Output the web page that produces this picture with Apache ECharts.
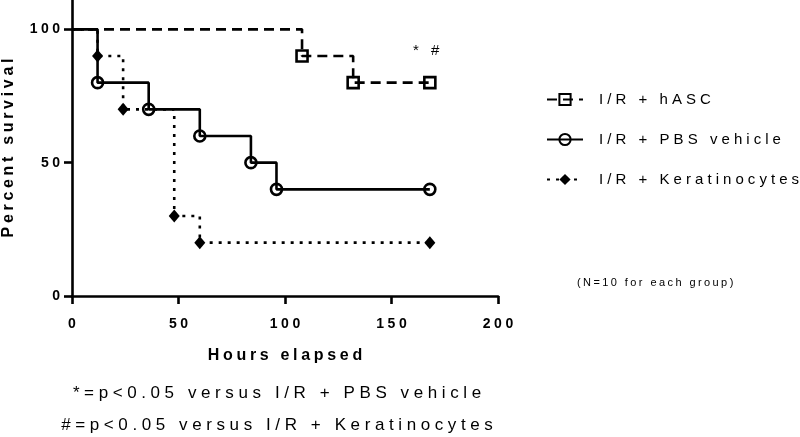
<!DOCTYPE html>
<html>
<head>
<meta charset="utf-8">
<script src="https://cdn.jsdelivr.net/npm/echarts@6/dist/echarts.min.js"></script>
<style>
html,body{margin:0;padding:0;background:#fff;}
#chart{width:800px;height:437px;}
</style>
</head>
<body>
<div id="chart"></div>
<script>
// ---- data ----
const hascHours = [0, 108, 132, 168];
const hascSurvival = [100, 90, 80, 80];
const pbsHours = [0, 12, 36, 60, 84, 96, 168];
const pbsSurvival = [100, 80, 70, 60, 50, 40, 40];
const keraHours = [0, 12, 24, 48, 60, 168];
const keraSurvival = [100, 90, 70, 30, 20, 20];
const seriesNames = ['I/R + hASC', 'I/R + PBS vehicle', 'I/R + Keratinocytes'];
const hoursTicks = [0, 50, 100, 150, 200];
const survivalTicks = [0, 50, 100];
const xTitle = 'Hours elapsed';
const yTitle = 'Percent survival';
const sigText = '* #';
const noteText = '(N=10 for each group)';
const footLines = ['*=p<0.05 versus I/R + PBS vehicle', '#=p<0.05 versus I/R + Keratinocytes'];

// ---- letter spacing for canvas text (reference uses widely tracked type) ----
(function () {
  const P = CanvasRenderingContext2D.prototype;
  const orig = P.fillText;
  function spacingFor(size, bold) {
    if (bold) return size >= 16 ? size * 0.23 : size * 0.25;
    if (size < 13) return size * 0.22;
    return size * 0.27;
  }
  P.fillText = function (text, x, y, maxW) {
    const has = ('letterSpacing' in this);
    if (has) {
      const m = /(\d+(?:\.\d+)?)px/.exec(this.font);
      const size = m ? parseFloat(m[1]) : 12;
      const ls = spacingFor(size, /bold|[6-9]00/.test(this.font));
      this.letterSpacing = ls + 'px';
      const a = this.textAlign;
      if (a === 'center') x += ls / 2;
      else if (a === 'right' || a === 'end') x += ls;
    }
    const r = (maxW === undefined) ? orig.call(this, text, x, y) : orig.call(this, text, x, y, maxW);
    if (has) this.letterSpacing = '0px';
    return r;
  };
})();

const FONT = '"Liberation Sans", Arial, Helvetica, sans-serif';

function toData(hours, surv) {
  return hours.map((h, i) => i === 0 ? { value: [h, surv[i]], symbol: 'none' } : [h, surv[i]]);
}

const chart = echarts.init(document.getElementById('chart'), null, { renderer: 'canvas' });
chart.setOption({
  animation: false,
  backgroundColor: '#fff',
  grid: { left: 72, right: 302, top: 0, bottom: 141, containLabel: false, outerBoundsMode: 'none' },
  xAxis: {
    type: 'value', min: 0, max: 200, interval: 50,
    name: xTitle, nameLocation: 'middle', nameGap: 52,
    nameTextStyle: { fontFamily: FONT, fontWeight: 'bold', fontSize: 16, color: '#000' },
    axisLine: { show: true, onZero: false, lineStyle: { color: '#000', width: 2.6 } },
    axisTick: { show: true, inside: false, length: 8, lineStyle: { color: '#000', width: 2.6 } },
    axisLabel: { margin: 21, fontFamily: FONT, fontWeight: 'bold', fontSize: 14, color: '#000', customValues: hoursTicks },
    splitLine: { show: false }
  },
  yAxis: {
    type: 'value', min: 0, max: 111,
    name: yTitle, nameLocation: 'middle', nameGap: 55, nameRotate: 90,
    nameTextStyle: { fontFamily: FONT, fontWeight: 'bold', fontSize: 16, color: '#000' },
    axisLine: { show: true, onZero: false, lineStyle: { color: '#000', width: 2.6 } },
    axisTick: { show: true, inside: false, length: 8, lineStyle: { color: '#000', width: 2.6 }, customValues: survivalTicks },
    axisLabel: { margin: 12, fontFamily: FONT, fontWeight: 'bold', fontSize: 14, color: '#000', customValues: survivalTicks },
    splitLine: { show: false }
  },
  legend: {
    orient: 'vertical', left: 546, top: 92, padding: 0,
    itemWidth: 36, itemHeight: 14, itemGap: 25,
    textStyle: { fontFamily: FONT, fontSize: 15, color: '#000', padding: [0, 0, 0, 11], lineHeight: 14 },
    data: seriesNames
  },
  series: [
    {
      name: seriesNames[0], type: 'line', step: 'end',
      data: toData(hascHours, hascSurvival),
      symbol: 'rect', symbolSize: 11,
      lineStyle: { color: '#000', width: 2.6, type: [10, 6] },
      itemStyle: { color: 'rgba(255,255,255,0)', borderColor: '#000', borderWidth: 2.6 },
      z: 2
    },
    {
      name: seriesNames[1], type: 'line', step: 'end',
      data: toData(pbsHours, pbsSurvival),
      symbol: 'circle', symbolSize: 11,
      lineStyle: { color: '#000', width: 2.6, type: 'solid' },
      itemStyle: { color: 'rgba(255,255,255,0)', borderColor: '#000', borderWidth: 2.6 },
      z: 3
    },
    {
      name: seriesNames[2], type: 'line', step: 'end',
      data: toData(keraHours, keraSurvival),
      symbol: 'diamond', symbolSize: [11, 13],
      lineStyle: { color: '#000', width: 2.6, type: [3, 6] },
      itemStyle: { color: '#000', borderColor: '#000', borderWidth: 0 },
      z: 4
    }
  ],
  graphic: [
    { type: 'text', left: 413, top: 43, style: { text: sigText, font: '15px ' + FONT, fill: '#000' } },
    { type: 'text', left: 577, top: 277, style: { text: noteText, font: '11px ' + FONT, fill: '#000' } },
    { type: 'text', x: 277, y: 393, style: { text: footLines[0], font: '17px ' + FONT, fill: '#000', textAlign: 'center', textVerticalAlign: 'middle' } },
    { type: 'text', x: 277, y: 425, style: { text: footLines[1], font: '17px ' + FONT, fill: '#000', textAlign: 'center', textVerticalAlign: 'middle' } }
  ]
});
</script>
</body>
</html>
